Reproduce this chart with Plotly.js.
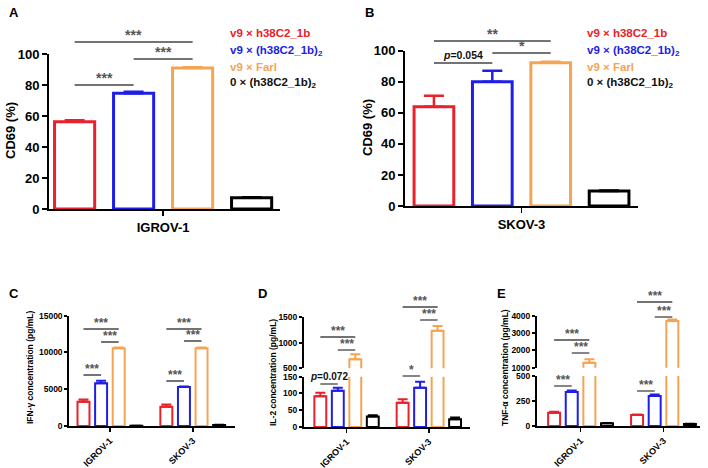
<!DOCTYPE html>
<html><head><meta charset="utf-8">
<script src="https://cdn.plot.ly/plotly-3.0.1.min.js"></script>
<style>html,body{margin:0;padding:0;background:#fff}#chart{width:708px;height:468px}</style>
</head><body><div id="chart"></div>
<script>
// ---------------- DATA ----------------
const seriesNames = ['v9 × h38C2_1b', 'v9 × (h38C2_1b)<sub>2</sub>', 'v9 × Farl', '0 × (h38C2_1b)<sub>2</sub>'];
const cellLines = ['IGROV-1', 'SKOV-3'];

// Panel A / B : CD69 (%) — one value per series
const cd69Igrov    = [56.4, 74.8, 91.2, 7.3];
const cd69IgrovErr = [0.9, 1.0, 0.4, 0.3];
const cd69Skov     = [63.9, 80.0, 92.3, 9.7];
const cd69SkovErr  = [7.1, 7.1, 0.6, 0.3];

// Panel C : IFN-γ (pg/mL) — per series, [IGROV-1, SKOV-3]
const ifnVals = [[3305, 2625], [5807, 5304], [10567, 10567], [20, 130]];
const ifnErr  = [[300, 300], [350, 80], [100, 100], [10, 40]];

// Panel D : IL-2 (pg/mL)
const il2Vals = [[92, 72.5], [108, 117], [676, 1237], [31, 23]];
const il2Err  = [[10, 10], [9, 18], [100, 92], [4, 5]];

// Panel E : TNF-α (pg/mL)
const tnfVals = [[133, 110], [340, 300], [1288, 3694], [27, 20]];
const tnfErr  = [[10, 6], [15, 14], [200, 80], [3, 3]];

// tick values
const ticksCD69 = [0, 20, 40, 60, 80, 100];
const ticksIFN  = [0, 5000, 10000, 15000];
const ticksIL2Low = [0, 50, 100, 150], ticksIL2High = [500, 1000, 1500];
const ticksTNFLow = [0, 250, 500], ticksTNFHigh = [1000, 2000, 3000, 4000];

// significance comparisons: [category index, series from, series to, label]
const sigA = [[0, 0, 2, '***'], [0, 1, 2, '***'], [0, 0, 1, '***']];
const sigB = [[0, 0, 2, '**'], [0, 1, 2, '*'], [0, 0, 1, '<i>p</i>=0.054']];
const sigC = [[0, 0, 2, '***'], [0, 1, 2, '***'], [0, 0, 1, '***'], [1, 0, 2, '***'], [1, 1, 2, '***'], [1, 0, 1, '***']];
const sigD = [[0, 0, 2, '***'], [0, 1, 2, '***'], [0, 0, 1, '<i>p</i>=0.072'], [1, 0, 2, '***'], [1, 1, 2, '***'], [1, 0, 1, '*']];
const sigE = [[0, 0, 2, '***'], [0, 1, 2, '***'], [0, 0, 1, '***'], [1, 0, 2, '***'], [1, 1, 2, '***'], [1, 0, 1, '***']];

// ---------------- STYLE / LAYOUT ----------------
const colors = ['#e8212b', '#1e1ee6', '#f5a452', '#000000'];
const legendColors = ['#e8212b', '#1e1ee6', '#f5a452', '#111111'];
const FONT = 'Liberation Sans, Arial, sans-serif';
const W = 708, H = 468;
const px = p => p / W, py = p => 1 - p / H;
const BARGAP = 0.15, SLOT = (1 - BARGAP) / 4;
const barX = (c, i) => c + (i - 1.5) * SLOT;

const traces = [];
function addBars(xa, ya, cats, vals, errs, lw, ew, capw) {
  for (let i = 0; i < 4; i++) {
    traces.push({
      type: 'bar', x: cats, y: vals[i], xaxis: xa, yaxis: ya, name: seriesNames[i],
      showlegend: false, hoverinfo: 'skip',
      marker: {color: 'rgba(255,255,255,0)', line: {color: colors[i], width: lw}},
      error_y: {type: 'data', symmetric: false, array: errs[i], arrayminus: errs[i].map(() => 0),
                color: colors[i], thickness: ew, width: capw}
    });
  }
}
const single = a => a.map(v => [v]);
addBars('x', 'y', ['IGROV-1'], single(cd69Igrov), single(cd69IgrovErr), 3, 2.5, 10);
addBars('x2', 'y2', ['SKOV-3'], single(cd69Skov), single(cd69SkovErr), 3, 2.5, 10);
addBars('x3', 'y3', cellLines, ifnVals, ifnErr, 2, 2, 5);
addBars('x4', 'y4', cellLines, il2Vals, il2Err, 2, 2, 5);
addBars('x4', 'y5', cellLines, il2Vals, il2Err, 2, 2, 5);
addBars('x5', 'y6', cellLines, tnfVals, tnfErr, 2, 2, 5);
addBars('x5', 'y7', cellLines, tnfVals, tnfErr, 2, 2, 5);

function xax(d0, d1, range, anchor, big) {
  return {domain: [px(d0), px(d1)], anchor: anchor, type: 'category', range: range,
    showline: true, linewidth: 2, linecolor: '#000', ticks: 'outside', ticklen: big ? 5 : 4, tickwidth: 1.5,
    tickcolor: '#000', showgrid: false, zeroline: false, fixedrange: true,
    tickangle: big ? 0 : -45,
    tickfont: {family: FONT, size: big ? 13 : 9, color: '#000', weight: 'bold'}};
}
function yax(p0, p1, range, tickvals, anchor, big) {
  return {domain: [py(p0), py(p1)], anchor: anchor, range: range, tickvals: tickvals,
    tickformat: 'd', separatethousands: false,
    showline: true, linewidth: 2, linecolor: '#000', ticks: 'outside', ticklen: big ? 5 : 3, tickwidth: 2,
    tickcolor: '#000', showgrid: false, zeroline: false, fixedrange: true,
    tickfont: {family: FONT, size: big ? 13 : 8.5, color: '#000', weight: 'bold'}};
}

const shapes = [], annotations = [];
function sig(list, xref, ys, size, tsize) {
  list.forEach((s, k) => {
    const x0 = barX(s[0], s[1]), x1 = barX(s[0], s[2]);
    shapes.push({type: 'line', xref: xref, yref: 'paper', x0: x0, x1: x1, y0: py(ys[k]), y1: py(ys[k]),
      line: {color: '#444', width: 1.3}});
    const isText = s[3].indexOf('=') >= 0;
    annotations.push({xref: xref, yref: 'paper', x: (x0 + x1) / 2, y: py(ys[k]), yanchor: 'bottom',
      text: s[3], showarrow: false, yshift: isText ? 0 : -3,
      font: {family: FONT, size: isText ? tsize : size, color: isText ? '#111' : '#555', weight: 'bold'}});
  });
}
sig(sigA, 'x', [42, 59, 85], 14, 11);
sig(sigB, 'x2', [41, 53, 63], 14, 10.5);
sig(sigC, 'x3', [329, 342, 375, 329, 341, 381], 12, 10);
sig(sigD, 'x4', [337, 350, 384, 307, 320, 376], 12, 10);
sig(sigE, 'x5', [340, 353, 386, 302, 317, 391], 12, 10);

// legends
[[228], [585]].forEach(([lx]) => {
  [33, 51, 67, 83].forEach((ly, i) => {
    annotations.push({xref: 'paper', yref: 'paper', x: px(lx), y: py(ly), xanchor: 'left', yanchor: 'middle',
      text: seriesNames[i], showarrow: false,
      font: {family: FONT, size: 11.5, color: legendColors[i], weight: 'bold'}});
  });
});
// panel letters
[['A', 7, 12], ['B', 363, 12], ['C', 7, 293], ['D', 256, 293], ['E', 495, 293]].forEach(([t, x, y]) => {
  annotations.push({xref: 'paper', yref: 'paper', x: px(x), y: py(y), xanchor: 'left', yanchor: 'middle',
    text: t, showarrow: false, font: {family: FONT, size: 13, color: '#000', weight: 'bold'}});
});
// y-axis titles
[['CD69 (%)', 10, 131, 13], ['CD69 (%)', 367, 128, 13],
 ['IFN-γ concentration (pg/mL)', 30, 367, 8.5],
 ['IL-2 concentration (pg/mL)', 273, 373, 8.5],
 ['TNF-α concentration (pg/mL)', 505, 367, 8.5]].forEach(([t, x, y, s]) => {
  annotations.push({xref: 'paper', yref: 'paper', x: px(x), y: py(y), xanchor: 'center', yanchor: 'middle',
    text: t, textangle: -90, showarrow: false, font: {family: FONT, size: s, color: '#000', weight: 'bold'}});
});

const layout = {
  width: W, height: H, margin: {l: 0, r: 0, t: 0, b: 0}, paper_bgcolor: '#fff', plot_bgcolor: 'rgba(0,0,0,0)',
  barmode: 'group', bargap: BARGAP, bargroupgap: 0.32, showlegend: false,
  xaxis:  xax(49, 280, [-0.411, 0.421], 'y', true),
  yaxis:  yax(209, 54.3, [0, 100], ticksCD69, 'x', true),
  xaxis2: xax(405, 638, [-0.424, 0.424], 'y2', true),
  yaxis2: yax(206, 50.7, [0, 100], ticksCD69, 'x2', true),
  xaxis3: xax(69.3, 235, [-0.49, 1.51], 'y3', false),
  yaxis3: yax(426, 315.7, [0, 15000], ticksIFN, 'x3', false),
  xaxis4: xax(304, 470, [-0.517, 1.50], 'y4', false),
  yaxis4: yax(427, 376.7, [0, 150], ticksIL2Low, 'x4', false),
  yaxis5: yax(368.3, 317.3, [500, 1500], ticksIL2High, 'x4', false),
  xaxis5: xax(537, 700, [-0.525, 1.44], 'y6', false),
  yaxis6: yax(426, 376, [0, 500], ticksTNFLow, 'x5', false),
  yaxis7: yax(367.7, 315.7, [1000, 4000], ticksTNFHigh, 'x5', false),
  shapes: shapes, annotations: annotations
};
Plotly.newPlot('chart', traces, layout, {staticPlot: true, displayModeBar: false});
</script></body></html>
